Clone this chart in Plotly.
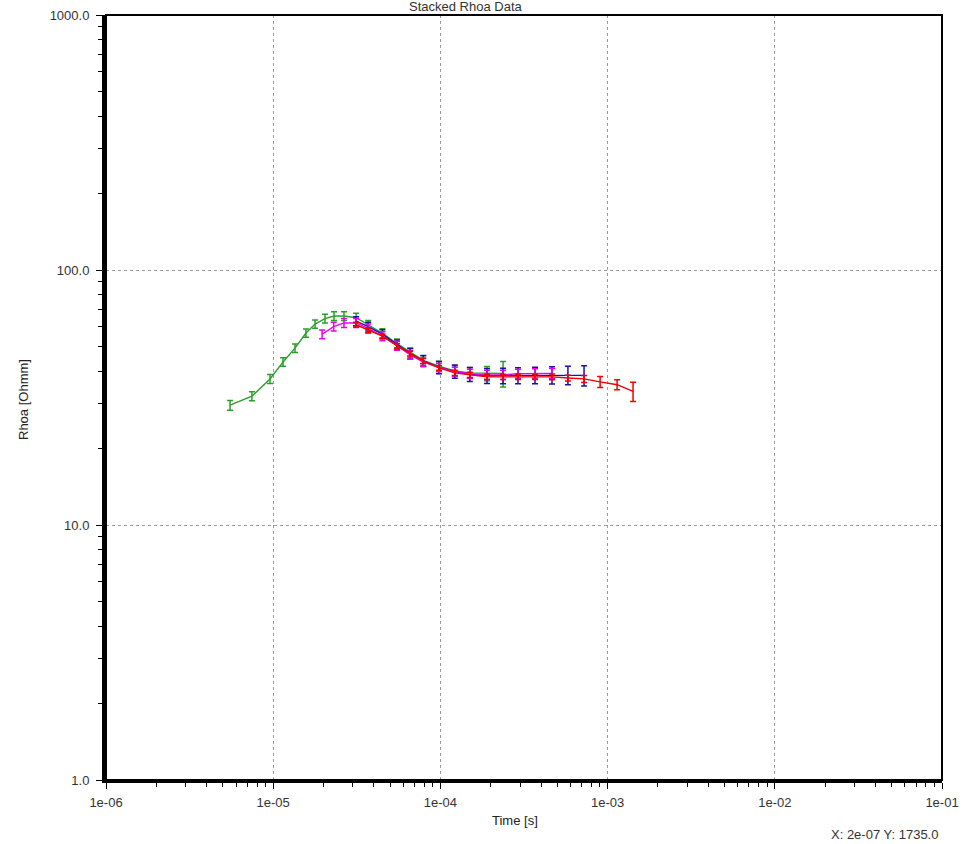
import plotly.graph_objects as go

# ---- data ----
green_t = [5.52e-6, 7.46e-6, 9.57e-6, 1.145e-5, 1.35e-5, 1.57e-5, 1.78e-5, 2.04e-5, 2.31e-5, 2.65e-5,
           3.13e-5, 3.7e-5, 4.5e-5, 5.5e-5, 6.6e-5, 7.9e-5, 9.8e-5, 1.22e-4, 1.5e-4, 1.9e-4, 2.37e-4]
green_r = [29.5, 32.0, 37.4, 43.6, 49.4, 56.6, 61.4, 64.5, 66.0, 66.0,
           65.0, 61.0, 56.5, 51.5, 47.5, 44.2, 42.0, 40.2, 39.5, 39.3, 39.3]
green_e = [1.3, 1.3, 1.5, 1.7, 1.9, 2.1, 2.3, 2.5, 2.6, 2.6,
           2.6, 2.4, 2.3, 2.1, 2.0, 1.9, 1.9, 1.9, 2.0, 2.5, 4.5]

magenta_t = [1.96e-5, 2.3e-5, 2.65e-5, 3.13e-5, 3.7e-5, 4.5e-5, 5.5e-5, 6.6e-5, 7.9e-5, 9.8e-5,
             1.22e-4, 1.5e-4, 1.9e-4, 2.37e-4, 2.91e-4, 3.68e-4, 4.65e-4]
magenta_r = [56.0, 60.0, 62.0, 62.0, 59.0, 55.0, 50.5, 46.5, 43.5, 41.5,
             40.0, 39.2, 38.8, 38.8, 39.2, 39.3, 39.3]
magenta_e = [2.2, 2.4, 2.5, 2.5, 2.4, 2.2, 2.0, 1.8, 1.7, 1.6,
             1.6, 1.6, 1.6, 1.6, 1.6, 1.7, 1.8]

blue_t = [3.13e-5, 3.7e-5, 4.5e-5, 5.5e-5, 6.6e-5, 7.9e-5, 9.8e-5, 1.22e-4, 1.5e-4, 1.9e-4,
          2.37e-4, 2.91e-4, 3.68e-4, 4.65e-4, 5.79e-4, 7.23e-4]
blue_r = [63.0, 60.0, 56.0, 51.0, 47.0, 44.0, 41.5, 40.0, 39.0, 38.5,
          38.5, 38.6, 38.7, 38.7, 38.7, 38.6]
blue_e = [2.5, 2.4, 2.3, 2.2, 2.2, 2.2, 2.3, 2.4, 2.5, 2.6,
          2.7, 2.8, 2.9, 3.0, 3.2, 3.5]

red_t = [3.13e-5, 3.7e-5, 4.5e-5, 5.5e-5, 6.58e-5, 7.87e-5, 9.81e-5, 1.22e-4, 1.5e-4, 1.9e-4,
         2.37e-4, 2.91e-4, 3.68e-4, 4.65e-4, 5.79e-4, 7.23e-4, 9.02e-4, 1.14e-3, 1.42e-3]
red_r = [61.0, 58.0, 55.0, 50.5, 47.0, 44.0, 41.3, 39.5, 38.8, 38.1,
         38.1, 38.1, 38.1, 38.1, 37.7, 37.4, 36.4, 35.5, 33.4]
red_e = [1.2, 1.2, 1.1, 1.0, 1.0, 1.0, 0.9, 0.9, 0.9, 0.9,
         0.9, 0.9, 0.9, 1.0, 1.0, 1.2, 1.8, 1.6, 2.9]

x_tickvals = [1e-6, 1e-5, 1e-4, 1e-3, 1e-2, 1e-1]
x_ticktext = ["1e-06", "1e-05", "1e-04", "1e-03", "1e-02", "1e-01"]
y_tickvals = [1, 10, 100, 1000]
y_ticktext = ["1.0", "10.0", "100.0", "1000.0"]

series = [
    ("green", green_t, green_r, green_e, "rgb(40,160,40)"),
    ("blue", blue_t, blue_r, blue_e, "rgb(20,20,170)"),
    ("magenta", magenta_t, magenta_r, magenta_e, "rgb(235,0,235)"),
    ("red", red_t, red_r, red_e, "rgb(240,0,0)"),
]

fig = go.Figure()
for name, t, r, e, c in series:
    fig.add_trace(go.Scatter(
        x=t, y=r, mode="lines", name=name,
        line=dict(color=c, width=1.4),
        error_y=dict(type="data", array=e, visible=True, color=c, thickness=1.5, width=3),
        showlegend=False,
    ))

font_fam = "Liberation Sans, Arial, sans-serif"
tick_font = dict(family=font_fam, size=13, color="#333")

# plot area in pixels: left 106, right 942, top 15, bottom 780
L, R, T, B = 106, 942, 15, 780
W, H = 965, 844


def px(xp):
    return (xp - L) / (R - L)


def py(yp):
    return (B - yp) / (B - T)


fig.update_layout(
    width=W, height=H,
    margin=dict(l=L, r=W - R, t=T, b=H - B, pad=0),
    paper_bgcolor="white", plot_bgcolor="white",
    font=dict(family=font_fam, size=13, color="#333"),
    xaxis=dict(
        type="log", range=[-6, -1], automargin=False,
        tickvals=x_tickvals, ticktext=x_ticktext,
        ticks="outside", ticklen=6, tickcolor="black", tickwidth=1,
        ticklabelstandoff=2,
        showline=True, linecolor="black", linewidth=3,
        showgrid=True, gridcolor="#9a9a9a", griddash="dot", gridwidth=1,
        zeroline=False, tickfont=tick_font,
        minor=dict(ticks="outside", ticklen=4, tickcolor="black", dtick="D1", showgrid=False),
    ),
    yaxis=dict(
        type="log", range=[0, 3], automargin=False,
        tickvals=y_tickvals, ticktext=y_ticktext,
        ticks="outside", ticklen=6, tickcolor="black", tickwidth=1,
        ticklabelstandoff=4,
        showline=True, linecolor="black", linewidth=4,
        showgrid=True, gridcolor="#9a9a9a", griddash="dot", gridwidth=1,
        zeroline=False, tickfont=tick_font,
        minor=dict(ticks="outside", ticklen=4, tickcolor="black", dtick="D1", showgrid=False),
    ),
    shapes=[dict(type="rect", xref="paper", yref="paper", x0=0, x1=1, y0=0, y1=1,
                 line=dict(color="black", width=2), layer="above")],
    annotations=[
        dict(text="Stacked Rhoa Data", xref="paper", yref="paper", x=px(466), y=py(6),
             xanchor="center", yanchor="middle", showarrow=False,
             font=dict(family=font_fam, size=13, color="#333")),
        dict(text="Time [s]", xref="paper", yref="paper", x=px(515), y=py(820),
             xanchor="center", yanchor="middle", showarrow=False,
             font=dict(family=font_fam, size=13, color="#222")),
        dict(text="Rhoa [Ohmm]", xref="paper", yref="paper", x=px(23), y=py(400),
             xanchor="center", yanchor="middle", showarrow=False, textangle=-90,
             font=dict(family=font_fam, size=13, color="#222")),
        dict(text="X: 2e-07 Y: 1735.0", xref="paper", yref="paper", x=px(940), y=py(834),
             xanchor="right", yanchor="middle", showarrow=False,
             font=dict(family=font_fam, size=13, color="#333")),
    ],
)

fig.write_html(
    "out.html",
    config={"displayModeBar": False},
    post_script="document.body.style.margin='0px';document.body.style.overflow='hidden';",
)
